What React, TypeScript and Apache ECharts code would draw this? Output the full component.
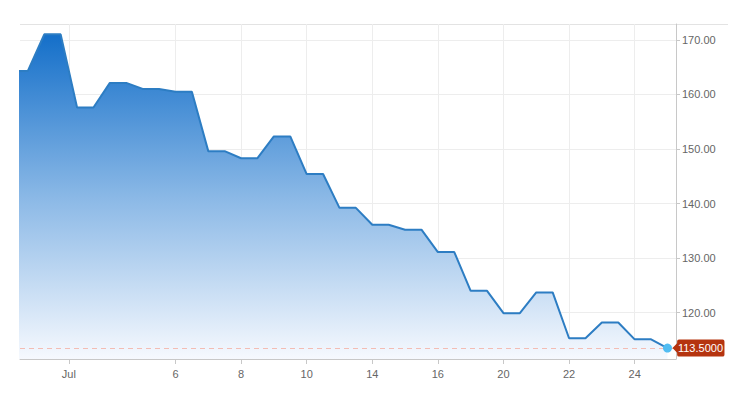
import React, { useEffect, useRef } from "react";
import * as echarts from "echarts";

// Daily closing values (each day holds for half a slot, then moves to the next)
const dayValues = [
  164.3, 171.0, 157.6, 162.1, 161.0, 160.5, 149.6, 148.3, 152.3, 145.4,
  139.2, 136.1, 135.2, 131.1, 124.0, 119.9, 123.7, 115.3, 118.2, 115.1, 113.5,
];
// x-axis tick labels and their positions (in half-day slot units)
const tickLabels = ["Jul", "6", "8", "10", "14", "16", "20", "22", "24"];
const tickPositions = [3.5, 10, 14, 18, 22, 26, 30, 34, 38];
// y-axis tick values
const yTicks = [120, 130, 140, 150, 160, 170];
const lastPrice = 113.5;

export default function App() {
  const ref = useRef<HTMLDivElement>(null);

  useEffect(() => {
    if (!ref.current) return;
    const chart = echarts.init(ref.current, null, { renderer: "svg" });

    const points: [number, number][] = [];
    dayValues.forEach((v, j) => {
      points.push([2 * j, v]);
      if (j < dayValues.length - 1) points.push([2 * j + 1, v]);
    });
    const lastX = 2 * (dayValues.length - 1);

    const font = "'Liberation Sans', Arial, sans-serif";

    chart.setOption({
      animation: false,
      grid: { left: 20, right: 64, top: 24, bottom: 37, containLabel: false },
      graphic: [
        {
          type: "line",
          shape: { x1: 20, y1: 24.5, x2: 728, y2: 24.5 },
          style: { stroke: "#e3e3e3", lineWidth: 1 },
          silent: true,
        },
      ],
      xAxis: {
        type: "value",
        min: 0.52,
        max: 40.52,
        axisLine: { show: true, lineStyle: { color: "#c8c8c8", width: 1 } },
        axisTick: {
          show: true,
          length: 5,
          customValues: tickPositions,
          lineStyle: { color: "#c8c8c8" },
        },
        axisLabel: {
          customValues: tickPositions,
          formatter: (v: number) => {
            const i = tickPositions.indexOf(v);
            return i >= 0 ? tickLabels[i] : "";
          },
          color: "#666",
          fontSize: 11,
          fontFamily: font,
          margin: 9,
        },
        splitLine: { show: true, lineStyle: { color: "#ededed", width: 1 } },
      },
      yAxis: {
        type: "value",
        position: "right",
        min: 111.5,
        max: 172.9,
        axisLine: { show: true, lineStyle: { color: "#c8c8c8", width: 1 } },
        axisTick: {
          show: true,
          length: 4,
          customValues: yTicks,
          lineStyle: { color: "#c8c8c8" },
        },
        axisLabel: {
          customValues: yTicks,
          formatter: (v: number) => v.toFixed(2),
          color: "#666",
          fontSize: 11,
          fontFamily: font,
          margin: 6,
        },
        splitLine: { show: true, lineStyle: { color: "#ededed", width: 1 } },
      },
      series: [
        {
          type: "line",
          data: points,
          symbol: "none",
          lineStyle: { color: "#2d7dc3", width: 2 },
          areaStyle: {
            opacity: 1,
            color: new echarts.graphic.LinearGradient(0, 0, 0, 1, [
              { offset: 0, color: "#146fc9" },
              { offset: 0.5, color: "#8ab8e6" },
              { offset: 1, color: "#f6f9fe" },
            ]),
          },
          markLine: {
            silent: true,
            symbol: "none",
            label: { show: false },
            lineStyle: { color: "#f3bdb4", type: [5, 4], width: 1 },
            data: [{ yAxis: lastPrice }],
          },
          markPoint: {
            silent: true,
            data: [
              {
                coord: [lastX, lastPrice],
                symbol: "circle",
                symbolSize: 9,
                itemStyle: { color: "#52bdf2" },
                label: { show: false },
              },
              {
                coord: [lastX, lastPrice],
                symbol:
                  "path://M0,9 L5,4 L5,2 Q5,0 7,0 L54,0 Q56,0 56,2 L56,16 Q56,18 54,18 L7,18 Q5,18 5,16 L5,14 Z",
                symbolSize: [52, 17],
                symbolOffset: [31, 0],
                itemStyle: { color: "#b5340f" },
                label: {
                  show: true,
                  position: "inside",
                  offset: [2, 0],
                  formatter: lastPrice.toFixed(4),
                  color: "#fff",
                  fontSize: 11,
                  fontFamily: font,
                },
              },
            ],
          },
        },
      ],
    });

    return () => chart.dispose();
  }, []);

  return (
    <div
      ref={ref}
      style={{ position: "absolute", left: 0, top: 0, width: 740, height: 396 }}
    />
  );
}
